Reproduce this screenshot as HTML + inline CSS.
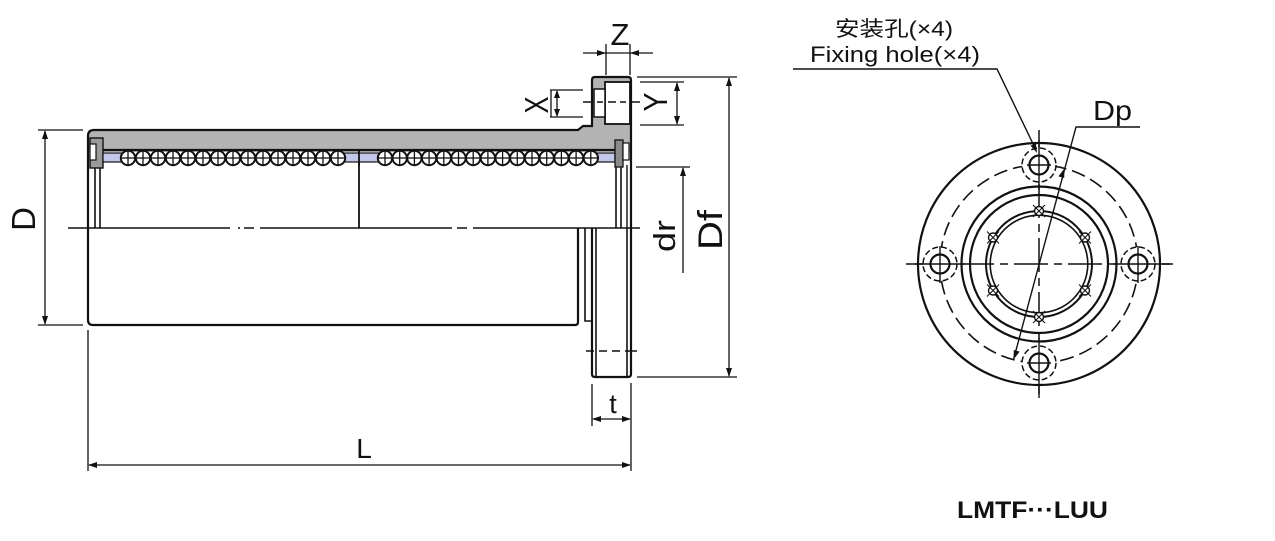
<!DOCTYPE html>
<html><head><meta charset="utf-8"><style>
html,body{margin:0;padding:0;background:#fff;}
svg{display:block;}
text{font-family:"Liberation Sans","Noto Sans CJK SC",sans-serif;fill:#111;}
</style></head><body>
<svg width="1275" height="541" viewBox="0 0 1275 541" xmlns="http://www.w3.org/2000/svg">
<defs>
<g id="b"><circle cx="0" cy="0" r="7.2" fill="#fff" stroke="#111" stroke-width="2"/><line x1="-7" y1="0" x2="7" y2="0" stroke="#111" stroke-width="1.3"/><line x1="0" y1="-7" x2="0" y2="7" stroke="#111" stroke-width="1.3"/></g>
<g id="m"><circle cx="0" cy="0" r="4.5" fill="#fff" stroke="#111" stroke-width="1.4"/><line x1="-6" y1="-6" x2="6" y2="6" stroke="#111" stroke-width="1.1"/><line x1="-6" y1="6" x2="6" y2="-6" stroke="#111" stroke-width="1.1"/></g>
</defs>
<rect width="1275" height="541" fill="#fff"/>

<!-- ===== LEFT VIEW ===== -->
<path d="M88,152 L88,136 Q88,130 94,130 L578,130 L583,126 L592,126 L592,80 Q592,77 595,77 L628,77 Q631,77 631,80 L631,152 Z" fill="#b3b3b3"/>
<rect x="605" y="82" width="25" height="42" fill="#fff" stroke="#111" stroke-width="1.8"/>
<rect x="594" y="89" width="11" height="28" fill="#fff" stroke="#111" stroke-width="1.5"/>
<line x1="592" y1="117" x2="592" y2="126" stroke="#111" stroke-width="1.5"/>

<g fill="none" stroke="#111">
<path d="M88,228 L88,136 Q88,130 94,130 L578,130 L583,126 L592,126 L592,80 Q592,77 595,77 L628,77 Q631,77 631,80 L631,374 Q631,377 628,377 L595,377 Q592,377 592,374 L592,228" stroke-width="2.2"/>
<path d="M88,228 L88,320 Q88,325 93,325 L575,325 Q578,325 578,322 L578,228" stroke-width="2.2"/>
<path d="M585,228 L585,321 L592,321" stroke-width="1.6"/>
<line x1="596" y1="228" x2="596" y2="377" stroke-width="1.6"/>
<line x1="627" y1="228" x2="627" y2="377" stroke-width="1.6"/>
<line x1="100" y1="150" x2="616" y2="150" stroke-width="2.2"/>
<line x1="95" y1="165" x2="95" y2="228" stroke-width="1.6"/>
<line x1="100" y1="165" x2="100" y2="228" stroke-width="1.6"/>
<line x1="359" y1="150" x2="359" y2="228" stroke-width="1.8"/>
<line x1="616" y1="165" x2="616" y2="228" stroke-width="1.6"/>
<line x1="621" y1="165" x2="621" y2="228" stroke-width="1.6"/>
<line x1="627" y1="165" x2="627" y2="228" stroke-width="1.4"/>
</g>
<rect x="90" y="138" width="13" height="30" fill="#9a9a9a" stroke="#111" stroke-width="1.4"/>
<rect x="90" y="144" width="6" height="16" fill="#fff" stroke="#111" stroke-width="1.2"/>
<rect x="103" y="153" width="20" height="9" fill="#c3c8ea" stroke="#111" stroke-width="1.2"/>
<rect x="342" y="153" width="38" height="9" fill="#c3c8ea" stroke="#111" stroke-width="1.2"/>
<line x1="359" y1="150" x2="359" y2="166" stroke="#111" stroke-width="1.8"/>
<rect x="597" y="153" width="18" height="9" fill="#c3c8ea" stroke="#111" stroke-width="1.2"/>
<rect x="615" y="140" width="8" height="27" fill="#8a8a8a" stroke="#111" stroke-width="1.3"/>
<rect x="623" y="143" width="6" height="17" fill="#fff" stroke="#111" stroke-width="1.2"/>

<use href="#b" x="128" y="158"/><use href="#b" x="143" y="158"/><use href="#b" x="158" y="158"/><use href="#b" x="173" y="158"/><use href="#b" x="188" y="158"/><use href="#b" x="203" y="158"/><use href="#b" x="218" y="158"/><use href="#b" x="233" y="158"/><use href="#b" x="248" y="158"/><use href="#b" x="263" y="158"/><use href="#b" x="278" y="158"/><use href="#b" x="293" y="158"/><use href="#b" x="308" y="158"/><use href="#b" x="323" y="158"/><use href="#b" x="338" y="158"/>
<use href="#b" x="385" y="158"/><use href="#b" x="399.7" y="158"/><use href="#b" x="414.4" y="158"/><use href="#b" x="429.1" y="158"/><use href="#b" x="443.8" y="158"/><use href="#b" x="458.5" y="158"/><use href="#b" x="473.2" y="158"/><use href="#b" x="487.9" y="158"/><use href="#b" x="502.6" y="158"/><use href="#b" x="517.3" y="158"/><use href="#b" x="532" y="158"/><use href="#b" x="546.7" y="158"/><use href="#b" x="561.4" y="158"/><use href="#b" x="576.1" y="158"/><use href="#b" x="590.8" y="158"/>

<g stroke="#111" fill="none" stroke-width="1.6">
<path d="M68,228 H230 M238,228 H240 M244,228 H254 M260,228 H452 M457,228 H467 M473,228 H640"/>
<path d="M583,102 H592 M597,102 H603 M608,102 H616 M620,102 H626 M632,102 H640" stroke-width="1.4"/>
<path d="M586,351 H594 M599,351 H607 M612,351 H620 M625,351 H637" stroke-width="1.4"/>
</g>

<g stroke="#111" fill="none" stroke-width="1.3">
<line x1="38" y1="130" x2="83" y2="130"/><line x1="38" y1="325" x2="83" y2="325"/>
<line x1="45" y1="131" x2="45" y2="324"/>
<line x1="88" y1="330" x2="88" y2="471"/><line x1="631" y1="383" x2="631" y2="471"/>
<line x1="89" y1="465" x2="630" y2="465"/>
<line x1="592" y1="384" x2="592" y2="426"/>
<line x1="593" y1="419" x2="630" y2="419"/>
<line x1="636" y1="167" x2="690" y2="167"/>
<line x1="683" y1="168" x2="683" y2="273"/>
<line x1="637" y1="77" x2="737" y2="77"/><line x1="637" y1="377" x2="737" y2="377"/>
<line x1="729" y1="78" x2="729" y2="376"/>
<line x1="640" y1="82" x2="684" y2="82"/><line x1="640" y1="125" x2="684" y2="125"/>
<line x1="677" y1="83" x2="677" y2="124"/>
<line x1="550" y1="90" x2="583" y2="90"/><line x1="550" y1="117" x2="583" y2="117"/>
<line x1="551" y1="90" x2="551" y2="117"/>
<line x1="557" y1="91" x2="557" y2="116"/>
<line x1="606" y1="44" x2="606" y2="75"/><line x1="630" y1="44" x2="630" y2="75"/>
<line x1="583" y1="53" x2="653" y2="53"/>
</g>
<g fill="#111">
<polygon points="45,130 42,139 48,139"/><polygon points="45,325 42,316 48,316"/>
<polygon points="88,465 97,462 97,468"/><polygon points="631,465 622,462 622,468"/>
<polygon points="592,419 601,416 601,422"/><polygon points="631,419 622,416 622,422"/>
<polygon points="683,167 680,176 686,176"/>
<polygon points="729,77 726,86 732,86"/><polygon points="729,377 726,368 732,368"/>
<polygon points="677,82 674,91 680,91"/><polygon points="677,125 674,116 680,116"/>
<polygon points="557,90 554,98 560,98"/><polygon points="557,117 554,109 560,109"/>
<polygon points="606,53 597,50 597,56"/><polygon points="630,53 639,50 639,56"/>
</g>

<text x="0" y="0" transform="translate(35,219) rotate(-90)" font-size="33" text-anchor="middle">D</text>
<text x="364" y="458" font-size="28" text-anchor="middle">L</text>
<text x="613" y="413" font-size="27" text-anchor="middle">t</text>
<text x="620" y="45" font-size="31" text-anchor="middle">Z</text>
<text x="0" y="0" transform="translate(675,236) rotate(-90)" font-size="31" text-anchor="middle" textLength="32" lengthAdjust="spacingAndGlyphs">dr</text>
<text x="0" y="0" transform="translate(722,230) rotate(-90)" font-size="34" text-anchor="middle" textLength="40" lengthAdjust="spacingAndGlyphs">Df</text>
<text x="0" y="0" transform="translate(548,105) rotate(-90)" font-size="33" text-anchor="middle" textLength="17" lengthAdjust="spacingAndGlyphs">X</text>
<text x="0" y="0" transform="translate(667,102) rotate(-90)" font-size="33" text-anchor="middle" textLength="19" lengthAdjust="spacingAndGlyphs">Y</text>

<!-- ===== RIGHT VIEW ===== -->
<g fill="none" stroke="#111">
<circle cx="1039" cy="264" r="121" stroke-width="2.2"/>
<circle cx="1039" cy="264" r="99" stroke-width="1.6" stroke-dasharray="14 6"/>
<circle cx="1039" cy="264" r="77.5" stroke-width="2.2"/>
<circle cx="1039" cy="264" r="69" stroke-width="2.2"/>
<circle cx="1039" cy="264" r="53" stroke-width="2"/>
<circle cx="1039" cy="264" r="48.8" stroke-width="1.6"/>
<line x1="906" y1="264" x2="1173" y2="264" stroke-width="1.5" stroke-dasharray="34 6 8 6"/>
<line x1="1039" y1="130" x2="1039" y2="398" stroke-width="1.5" stroke-dasharray="34 6 8 6"/>
</g>
<use href="#m" x="1039" y="211"/><use href="#m" x="1039" y="317"/>
<use href="#m" x="1085" y="237.5"/><use href="#m" x="993" y="237.5"/>
<use href="#m" x="993" y="290.5"/><use href="#m" x="1085" y="290.5"/>
<g fill="#fff" stroke="#111">
<circle cx="1039" cy="165" r="17" stroke-width="1.5" stroke-dasharray="6 3"/>
<circle cx="1039" cy="165" r="9.5" stroke-width="2.2"/>
<circle cx="1039" cy="363" r="17" stroke-width="1.5" stroke-dasharray="6 3"/>
<circle cx="1039" cy="363" r="9.5" stroke-width="2.2"/>
<circle cx="940" cy="264" r="17" stroke-width="1.5" stroke-dasharray="6 3"/>
<circle cx="940" cy="264" r="9.5" stroke-width="2.2"/>
<circle cx="1138" cy="264" r="17" stroke-width="1.5" stroke-dasharray="6 3"/>
<circle cx="1138" cy="264" r="9.5" stroke-width="2.2"/>
</g>
<g stroke="#111" stroke-width="1.4" fill="none">
<line x1="1039" y1="140" x2="1039" y2="190"/><line x1="1027" y1="165" x2="1051" y2="165"/>
<line x1="1039" y1="338" x2="1039" y2="398"/><line x1="1027" y1="363" x2="1051" y2="363"/>
<line x1="915" y1="264" x2="965" y2="264"/><line x1="940" y1="246" x2="940" y2="283"/>
<line x1="1113" y1="264" x2="1173" y2="264"/><line x1="1138" y1="246" x2="1138" y2="283"/>
<polyline points="1013.5,359.6 1076,127 1140,127" stroke-width="1.4"/>
<polyline points="793,69 997,69 1036,150" stroke-width="1.4"/>
</g>
<g fill="#111">
<polygon points="1013.5,359.6 1013.8,350 1019.6,351.6"/>
<polygon points="1064.5,168.4 1064.2,178 1058.4,176.4"/>
<polygon points="1037,153 1030.5,145.8 1035.9,143.2"/>
</g>

<text x="835" y="36" font-size="21" textLength="118" lengthAdjust="spacingAndGlyphs">安装孔(×4)</text>
<text x="810" y="62" font-size="22" textLength="170" lengthAdjust="spacingAndGlyphs">Fixing hole(×4)</text>
<text x="1093" y="120" font-size="28" textLength="39" lengthAdjust="spacingAndGlyphs">Dp</text>
<text x="957" y="518" font-size="24" font-weight="bold" textLength="151" lengthAdjust="spacingAndGlyphs">LMTF···LUU</text>
</svg>
</body></html>
